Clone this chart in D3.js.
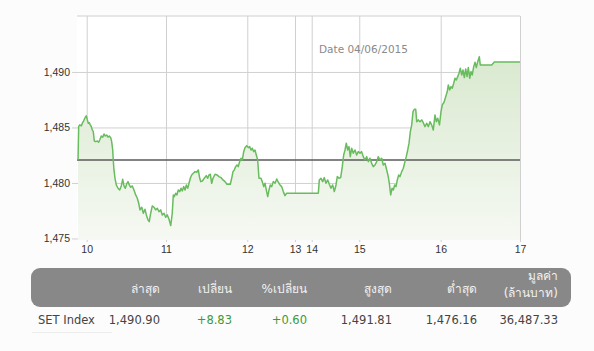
<!DOCTYPE html>
<html>
<head>
<meta charset="utf-8">
<script src="https://cdn.jsdelivr.net/npm/d3@7"></script>
<style>
  body { margin: 0; background: #fcfcfc; }
  svg { display: block; overflow: visible; font-family: Tahoma, "DejaVu Sans", "Noto Sans", sans-serif; }
</style>
</head>
<body>
<svg id="chart"></svg>
<script>
// data
const days = [
  9.891, 9.899, 9.912, 9.932, 9.945, 9.957, 9.970, 9.983, 9.995, 10.008,
  10.020, 10.033, 10.045, 10.058, 10.071, 10.083, 10.096, 10.113, 10.134, 10.151,
  10.168, 10.184, 10.202, 10.218, 10.235, 10.252, 10.269, 10.285, 10.303, 10.315,
  10.328, 10.335, 10.344, 10.357, 10.373, 10.395, 10.416, 10.436, 10.454, 10.470,
  10.487, 10.504, 10.521, 10.537, 10.555, 10.575, 10.596, 10.618, 10.638, 10.656,
  10.672, 10.694, 10.714, 10.735, 10.752, 10.773, 10.789, 10.807, 10.827, 10.849,
  10.870, 10.890, 10.912, 10.933, 10.953, 10.975, 10.996, 11.016, 11.037, 11.058,
  11.077, 11.090, 11.102, 11.119, 11.135, 11.151, 11.169, 11.185, 11.200, 11.218,
  11.234, 11.250, 11.267, 11.283, 11.299, 11.316, 11.336, 11.357, 11.378, 11.397,
  11.415, 11.427, 11.447, 11.471, 11.496, 11.513, 11.529, 11.545, 11.562, 11.578,
  11.603, 11.627, 11.652, 11.676, 11.701, 11.726, 11.750, 11.775, 11.791, 11.808,
  11.824, 11.840, 11.857, 11.873, 11.889, 11.906, 11.923, 11.939, 11.956, 11.972,
  11.993, 12.021, 12.050, 12.078, 12.105, 12.134, 12.161, 12.189, 12.218, 12.245,
  12.287, 12.314, 12.344, 12.371, 12.398, 12.428, 12.455, 12.482, 12.512, 12.545,
  12.581, 12.618, 12.650, 12.686, 12.721, 12.755, 12.790, 12.825, 14.139, 14.160,
  14.195, 14.231, 14.265, 14.300, 14.336, 14.370, 14.405, 14.441, 14.475, 14.511,
  14.538, 14.574, 14.609, 14.643, 14.672, 14.700, 14.727, 14.756, 14.784, 14.811,
  14.840, 14.874, 14.910, 14.945, 14.979, 15.009, 15.029, 15.049, 15.070, 15.091,
  15.111, 15.131, 15.152, 15.172, 15.193, 15.214, 15.233, 15.254, 15.275, 15.295,
  15.316, 15.337, 15.356, 15.369, 15.386, 15.402, 15.418, 15.435, 15.451, 15.467,
  15.484, 15.500, 15.521, 15.541, 15.561, 15.577, 15.595, 15.611, 15.627, 15.644,
  15.660, 15.676, 15.693, 15.706, 15.725, 15.746, 15.767, 15.786, 15.807, 15.828,
  15.848, 15.868, 15.889, 15.909, 15.930, 15.946, 15.963, 15.985, 16.004, 16.020,
  16.042, 16.063, 16.083, 16.096, 16.113, 16.130, 16.146, 16.164, 16.180, 16.197,
  16.214, 16.231, 16.247, 16.265, 16.281, 16.298, 16.315, 16.332, 16.348, 16.366,
  16.382, 16.398, 16.416, 16.433, 16.449, 16.467, 16.487, 16.499, 16.643, 16.676,
  17.000
];
const prices = [
  1482.07, 1485.07, 1485.23, 1485.14, 1485.38, 1485.52, 1485.74, 1485.92, 1486.04, 1485.68,
  1485.38, 1485.43, 1485.23, 1485.07, 1484.77, 1484.62, 1483.78, 1483.72, 1483.78, 1483.67,
  1483.94, 1484.23, 1484.12, 1484.41, 1484.23, 1484.32, 1484.12, 1484.23, 1484.08, 1483.72,
  1482.97, 1482.07, 1481.17, 1480.42, 1479.82, 1479.52, 1479.37, 1479.73, 1480.33, 1479.73,
  1479.52, 1479.91, 1480.12, 1479.82, 1479.61, 1479.73, 1479.37, 1478.92, 1478.62, 1478.17,
  1477.57, 1477.81, 1477.27, 1477.63, 1477.12, 1476.67, 1476.51, 1477.27, 1477.93, 1477.81,
  1477.57, 1477.72, 1477.41, 1477.57, 1477.12, 1477.27, 1476.91, 1477.12, 1476.73, 1476.16,
  1477.27, 1478.92, 1478.77, 1479.07, 1478.92, 1479.37, 1479.22, 1479.52, 1479.28, 1479.67,
  1479.37, 1479.82, 1479.52, 1479.97, 1480.42, 1480.72, 1480.87, 1481.02, 1480.96, 1481.17,
  1480.42, 1480.12, 1480.18, 1480.42, 1480.66, 1480.42, 1480.72, 1480.78, 1479.97, 1480.42,
  1480.78, 1480.72, 1480.57, 1480.48, 1480.27, 1480.12, 1479.88, 1479.88, 1479.88, 1480.42,
  1481.02, 1481.17, 1481.47, 1481.62, 1481.47, 1481.92, 1482.23, 1482.07, 1482.82, 1483.18,
  1483.36, 1483.18, 1483.27, 1482.97, 1483.13, 1482.82, 1482.97, 1482.52, 1482.07, 1480.42,
  1480.42, 1480.12, 1479.67, 1479.97, 1479.37, 1478.77, 1479.37, 1479.82, 1479.67, 1480.12,
  1479.97, 1480.36, 1480.06, 1479.82, 1479.67, 1479.22, 1478.86, 1479.07, 1479.07, 1480.27,
  1480.42, 1480.12, 1480.48, 1479.97, 1480.27, 1479.88, 1479.52, 1479.82, 1479.22, 1479.82,
  1480.57, 1480.42, 1480.48, 1481.47, 1482.52, 1482.97, 1483.58, 1482.97, 1483.27, 1482.37,
  1483.13, 1482.68, 1482.97, 1482.52, 1482.82, 1482.68, 1482.82, 1482.37, 1482.07, 1482.37,
  1481.92, 1482.23, 1481.77, 1481.47, 1481.62, 1481.92, 1482.37, 1482.07, 1482.23, 1481.62,
  1481.77, 1481.17, 1480.57, 1479.97, 1478.92, 1479.52, 1479.37, 1479.82, 1479.67, 1480.27,
  1480.72, 1480.57, 1481.02, 1481.32, 1481.92, 1482.37, 1482.97, 1483.58, 1484.62, 1485.23,
  1486.42, 1486.64, 1486.64, 1485.52, 1485.68, 1485.52, 1485.68, 1485.43, 1485.07, 1485.38,
  1485.07, 1485.52, 1485.23, 1484.77, 1486.13, 1485.52, 1485.83, 1485.23, 1486.42, 1487.03,
  1487.27, 1487.77, 1488.23, 1488.83, 1488.38, 1488.68, 1488.53, 1488.98, 1489.43, 1489.28,
  1489.58, 1489.88, 1490.33, 1489.73, 1490.18, 1489.49, 1490.27, 1489.58, 1490.39, 1489.43,
  1490.03, 1489.73, 1490.48, 1490.87, 1490.39, 1490.93, 1491.38, 1490.63, 1490.63, 1490.90,
  1490.90
];
const prevClose = 1482.07;
const dayTicks = [10, 11, 12, 13, 14, 15, 16, 17];
const priceTicks = [1475, 1480, 1485, 1490];
const dateLabel = 'Date 04/06/2015';

const headers = [['ล่าสุด'], ['เปลี่ยน'], ['%เปลี่ยน'], ['สูงสุด'], ['ต่ำสุด'], ['มูลค่า', '(ล้านบาท)']];
const rowName = 'SET Index';
const rowValues = ['1,490.90', '+8.83', '+0.60', '1,491.81', '1,476.16', '36,487.33'];
const rowUp = [false, true, true, false, false, false];

// layout
const width = 594;
const height = 351;
const margin = { top: 16, right: 74, bottom: 111, left: 77 };
const innerWidth = width - margin.left - margin.right;
const innerHeight = height - margin.top - margin.bottom;
// where each day tick sits across the plot (weekend squeezed)
const tickFrac = [0.0219, 0.2009, 0.3844, 0.4921, 0.5298, 0.6372, 0.821, 1.0];

const svg = d3.select('#chart')
  .attr('width', width)
  .attr('height', height);

const g = svg.append('g')
  .attr('transform', `translate(${margin.left}, ${margin.top})`);

// scales
const xScale = d3.scaleLinear()
  .domain([9.878].concat(dayTicks))
  .range([0].concat(tickFrac.map(f => f * innerWidth)));

const yScale = d3.scaleLinear()
  .domain([1474.86, 1495.04])
  .range([innerHeight, 0]);

// plot background
g.append('rect')
  .attr('width', innerWidth)
  .attr('height', innerHeight)
  .attr('fill', '#ffffff');

// gradient for the area
const grad = svg.append('defs').append('linearGradient')
  .attr('id', 'areaFill')
  .attr('x1', 0).attr('y1', 0).attr('x2', 0).attr('y2', 1);
grad.append('stop').attr('offset', '0%').attr('stop-color', '#d9e9cf');
grad.append('stop').attr('offset', '100%').attr('stop-color', '#f6f9f3');

// horizontal grid + y labels
const yAxis = d3.axisLeft(yScale)
  .tickValues(priceTicks)
  .tickSize(-innerWidth - 5)
  .tickFormat(d3.format(','));

g.append('g')
  .attr('transform', 'translate(-5, 0)')
  .call(yAxis)
  .call(s => s.select('.domain').remove())
  .call(s => s.selectAll('line').attr('stroke', '#d0d0d0'))
  .call(s => s.selectAll('text')
    .attr('x', -2)
    .attr('fill', '#333')
    .style('font-size', '10.5px'));

// top border
g.append('line')
  .attr('x1', 0).attr('x2', innerWidth)
  .attr('y1', 0).attr('y2', 0)
  .attr('stroke', '#d0d0d0');

// vertical grid + x labels
const xAxis = d3.axisBottom(xScale)
  .tickValues(dayTicks)
  .tickSize(-innerHeight - 2)
  .tickFormat(d3.format('d'));

g.append('g')
  .attr('transform', `translate(0, ${innerHeight + 2})`)
  .call(xAxis)
  .call(s => s.select('.domain').remove())
  .call(s => s.selectAll('line').attr('stroke', '#d0d0d0'))
  .call(s => s.selectAll('text')
    .attr('y', 4)
    .attr('fill', '#333')
    .style('font-size', '10.5px'));

// area + line
const points = days.map((d, i) => ({ day: d, price: prices[i] }));

g.append('path')
  .datum(points)
  .attr('fill', 'url(#areaFill)')
  .attr('d', d3.area()
    .x(d => xScale(d.day))
    .y0(innerHeight)
    .y1(d => yScale(d.price)));

// previous close
g.append('line')
  .attr('x1', 0).attr('x2', innerWidth)
  .attr('y1', yScale(prevClose)).attr('y2', yScale(prevClose))
  .attr('stroke', '#5a5a5a')
  .attr('stroke-width', 1.5);

g.append('path')
  .datum(points)
  .attr('fill', 'none')
  .attr('stroke', '#68bc5e')
  .attr('stroke-width', 1.5)
  .attr('stroke-linejoin', 'round')
  .attr('d', d3.line()
    .x(d => xScale(d.day))
    .y(d => yScale(d.price)));

// date label
svg.append('text')
  .attr('x', 319)
  .attr('y', 53)
  .attr('fill', '#8a8a8a')
  .style('font-size', '10.5px')
  .text(dateLabel);

// table
const colRight = [160, 232, 307, 392, 477, 558];

svg.append('rect')
  .attr('x', 31).attr('y', 268)
  .attr('width', 540).attr('height', 39)
  .attr('rx', 9)
  .attr('fill', '#888888');

headers.forEach((lines, i) => {
  const t = svg.append('text')
    .attr('text-anchor', 'end')
    .attr('fill', '#f2f2f2')
    .style('font-size', '12px');
  lines.forEach((s, j) => {
    t.append('tspan')
      .attr('x', colRight[i])
      .attr('y', lines.length === 1 ? 293 : 280 + j * 17)
      .text(s);
  });
});

svg.append('text')
  .attr('x', 38)
  .attr('y', 324)
  .attr('fill', '#444')
  .style('font-size', '11.5px')
  .text(rowName);

rowValues.forEach((v, i) => {
  svg.append('text')
    .attr('x', colRight[i])
    .attr('y', 324)
    .attr('text-anchor', 'end')
    .attr('fill', rowUp[i] ? '#3d9a35' : '#444')
    .style('font-size', '11.5px')
    .text(v);
});

svg.append('line')
  .attr('x1', 32).attr('x2', 112)
  .attr('y1', 332.5).attr('y2', 332.5)
  .attr('stroke', '#ececec');
</script>
</body>
</html>
